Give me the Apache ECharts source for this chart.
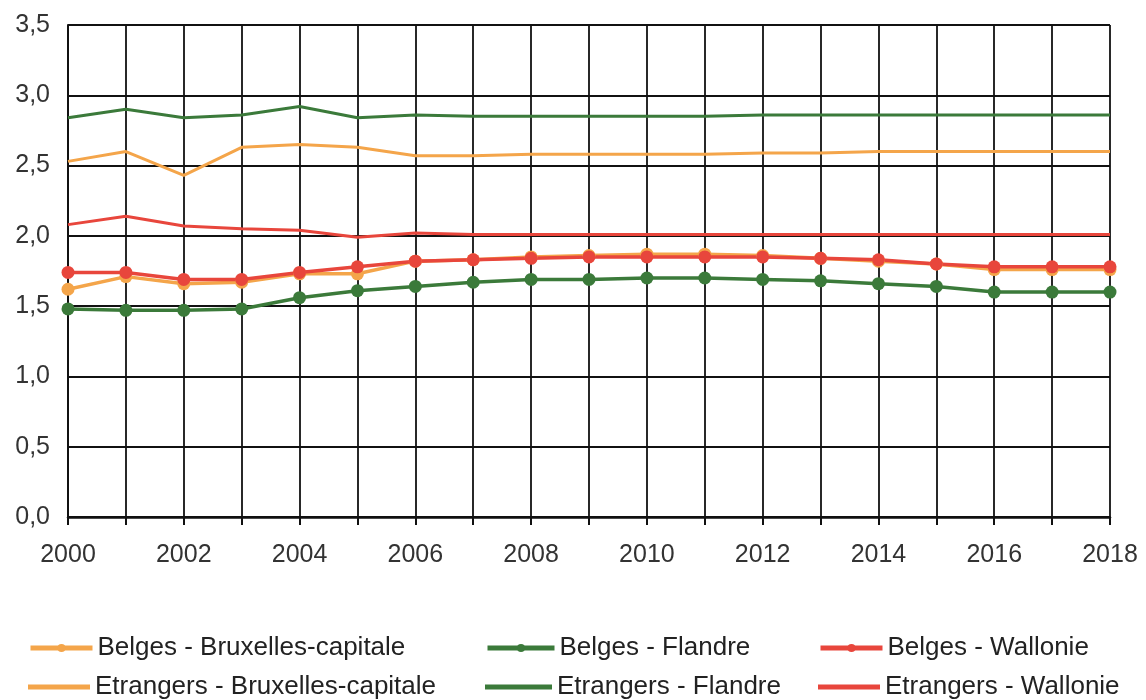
<!DOCTYPE html>
<html>
<head>
<meta charset="utf-8">
<script src="https://cdn.jsdelivr.net/npm/echarts@6/dist/echarts.min.js"></script>
<style>
html,body{margin:0;padding:0;background:#fff;}
#c{width:1146px;height:700px;}
</style>
</head>
<body>
<div id="c"></div>
<script>
const years = [2000,2001,2002,2003,2004,2005,2006,2007,2008,2009,2010,2011,2012,2013,2014,2015,2016,2017,2018];
const belgesBruxelles   = [1.62,1.71,1.66,1.67,1.73,1.73,1.82,1.83,1.85,1.86,1.87,1.87,1.86,1.84,1.82,1.80,1.76,1.76,1.76];
const belgesFlandre     = [1.48,1.47,1.47,1.48,1.56,1.61,1.64,1.67,1.69,1.69,1.70,1.70,1.69,1.68,1.66,1.64,1.60,1.60,1.60];
const belgesWallonie    = [1.74,1.74,1.69,1.69,1.74,1.78,1.82,1.83,1.84,1.85,1.85,1.85,1.85,1.84,1.83,1.80,1.78,1.78,1.78];
const etrBruxelles      = [2.53,2.60,2.43,2.63,2.65,2.63,2.57,2.57,2.58,2.58,2.58,2.58,2.59,2.59,2.60,2.60,2.60,2.60,2.60];
const etrFlandre        = [2.84,2.90,2.84,2.86,2.92,2.84,2.86,2.85,2.85,2.85,2.85,2.85,2.86,2.86,2.86,2.86,2.86,2.86,2.86];
const etrWallonie       = [2.08,2.14,2.07,2.05,2.04,1.99,2.02,2.01,2.01,2.01,2.01,2.01,2.01,2.01,2.01,2.01,2.01,2.01,2.01];

const ORANGE = '#F4A54A', GREEN = '#3B7A3A', RED = '#E8463C';
const FONT = 'Liberation Sans, Arial, sans-serif';

function pairs(arr){ return years.map((y,i)=>[y,arr[i]]); }

function mk(name, data, color, marker, width){
  return {
    name, type:'line', data: pairs(data),
    symbol: marker ? 'circle' : 'none', symbolSize: 13, showSymbol: marker,
    lineStyle:{color, width: width}, itemStyle:{color},
    emphasis:{disabled:true}, z: marker ? 4 : 3
  };
}

const legendText = {fontFamily: FONT, fontSize: 26, lineHeight: 26, color:'#222'};
function lg(name, left, top, width, marker){
  const o = {
    orient:'horizontal', left, top, padding:0, itemGap:0,
    itemWidth: width, itemHeight: marker ? 10 : 5,
    textStyle: legendText, selectedMode:false,
    data:[name]
  };
  if (marker) { o.lineStyle = {width: 5}; }
  else { o.icon = 'rect'; }
  return o;
}

const chart = echarts.init(document.getElementById('c'), null, {renderer:'canvas'});
chart.setOption({
  animation:false,
  backgroundColor:'#fff',
  grid:{left:68, right:36, top:25, bottom:183, containLabel:false},
  xAxis:{
    type:'value', min:2000, max:2018, interval:1,
    axisLine:{show:true, onZero:false, lineStyle:{color:'#111', width:2.5}},
    axisTick:{show:true, length:8, lineStyle:{color:'#111', width:2}},
    splitLine:{show:true, lineStyle:{color:'#111', width:1.8}},
    axisLabel:{margin:26, fontFamily:FONT, fontSize:25, color:'#333',
      formatter: v => (v % 2 === 0 ? String(v) : '')}
  },
  yAxis:{
    type:'value', min:0, max:3.5, interval:0.5,
    axisLine:{show:true, lineStyle:{color:'#111', width:2}},
    axisTick:{show:false},
    splitLine:{show:true, lineStyle:{color:'#111', width:1.8}},
    axisLabel:{margin:18, fontFamily:FONT, fontSize:25, color:'#333',
      formatter: v => v.toFixed(1).replace('.', ',')}
  },
  legend:[
    lg('Belges - Bruxelles-capitale', 28, 635, 62, true),
    lg('Etrangers - Bruxelles-capitale', 28, 674, 62, false),
    lg('Belges - Flandre', 485, 635, 67, true),
    lg('Etrangers - Flandre', 485, 674, 67, false),
    lg('Belges - Wallonie', 818, 635, 62, true),
    lg('Etrangers - Wallonie', 818, 674, 62, false)
  ],
  series:[
    mk('Etrangers - Flandre', etrFlandre, GREEN, false, 3),
    mk('Etrangers - Bruxelles-capitale', etrBruxelles, ORANGE, false, 3),
    mk('Etrangers - Wallonie', etrWallonie, RED, false, 3),
    mk('Belges - Flandre', belgesFlandre, GREEN, true, 3.5),
    mk('Belges - Bruxelles-capitale', belgesBruxelles, ORANGE, true, 3.5),
    mk('Belges - Wallonie', belgesWallonie, RED, true, 3.5)
  ]
});
</script>
</body>
</html>
